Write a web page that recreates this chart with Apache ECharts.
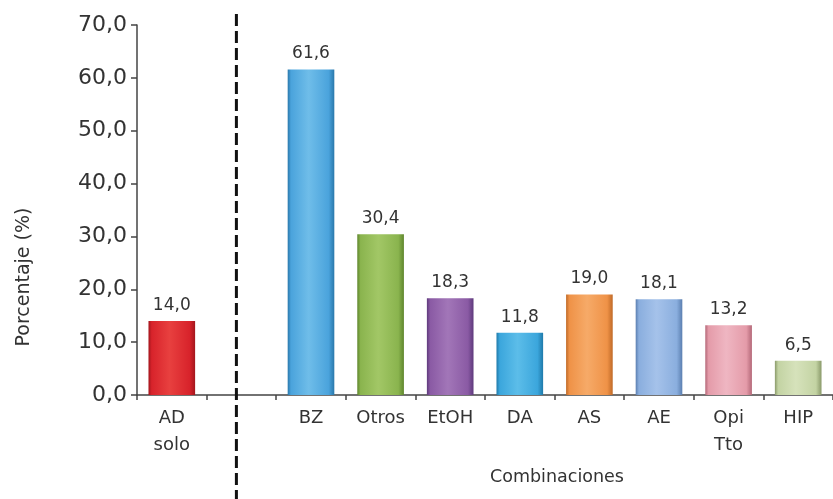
<!DOCTYPE html>
<html>
<head>
<meta charset="utf-8">
<script src="https://cdn.jsdelivr.net/npm/echarts@6/dist/echarts.min.js"></script>
<style>html,body{margin:0;padding:0;background:#fff}#c{width:833px;height:499px}</style>
</head>
<body>
<div id="c"></div>
<script>
const categories = ['AD\nsolo', '', 'BZ', 'Otros', 'EtOH', 'DA', 'AS', 'AE', 'Opi\nTto', 'HIP'];
const values = [14.0, null, 61.6, 30.4, 18.3, 11.8, 19.0, 18.1, 13.2, 6.5];
const yTicks = [0, 10, 20, 30, 40, 50, 60, 70];
const yTitle = 'Porcentaje (%)';
const xTitle = 'Combinaciones';

// styles: [dark edge, base, light centre]
const barColors = [
  ['#a3161d', '#d8232b', '#e8403f'],
  null,
  ['#2a78ab', '#4aa3dc', '#6fbde9'],
  ['#5f862d', '#8ab44e', '#a2c766'],
  ['#5e3a7c', '#8a5aa4', '#a276b8'],
  ['#1f7aaa', '#3ba6dc', '#5cbde9'],
  ['#c06a28', '#ef9247', '#f6aa68'],
  ['#5b7fb0', '#8aaede', '#a5c2ea'],
  ['#b46878', '#e49ba9', '#efb6c2'],
  ['#8a9a6a', '#c3d3a3', '#d6e2bb']
];

const fmt = v => Number(v).toFixed(1).replace('.', ',');

const chart = echarts.init(document.getElementById('c'), null, {renderer: 'canvas'});

const data = values.map((v, i) => {
  if (v === null) return null;
  const c = barColors[i];
  return {
    value: v,
    itemStyle: {
      color: new echarts.graphic.LinearGradient(0, 0, 1, 0, [
        {offset: 0, color: c[0]},
        {offset: 0.07, color: c[1]},
        {offset: 0.45, color: c[2]},
        {offset: 0.88, color: c[1]},
        {offset: 1, color: c[0]}
      ])
    }
  };
});

chart.setOption({
  animation: false,
  backgroundColor: '#ffffff',
  grid: {left: 137, right: -5, top: 25, bottom: 104, containLabel: false},
  xAxis: {
    type: 'category',
    data: categories,
    axisLine: {lineStyle: {color: '#444', width: 1.5}},
    axisTick: {show: true, length: 5, interval: 0, lineStyle: {color: '#444', width: 1.5}},
    axisLabel: {
      interval: 0, margin: 10, color: '#333',
      fontFamily: 'DejaVu Sans', fontSize: 18, lineHeight: 27
    }
  },
  yAxis: {
    type: 'value',
    min: yTicks[0], max: yTicks[yTicks.length - 1], interval: 10,
    axisLine: {show: true, lineStyle: {color: '#444', width: 1.5}},
    axisTick: {show: true, length: 6, lineStyle: {color: '#444', width: 1.5}},
    splitLine: {show: false},
    axisLabel: {
      margin: 10, color: '#333', fontFamily: 'DejaVu Sans', fontSize: 22,
      formatter: fmt
    }
  },
  series: [{
    type: 'bar',
    data: data,
    barWidth: '67%',
    label: {
      show: true, position: 'top', distance: 7,
      color: '#333', fontFamily: 'DejaVu Sans', fontSize: 17,
      formatter: p => fmt(p.value)
    }
  }]
});

const gapX = chart.convertToPixel({xAxisIndex: 0}, 1) - 5;
const axisMidY = (chart.convertToPixel({yAxisIndex: 0}, yTicks[0]) + chart.convertToPixel({yAxisIndex: 0}, yTicks[yTicks.length - 1])) / 2;

chart.setOption({
  graphic: [
    {
      type: 'line',
      shape: {x1: gapX, y1: 14, x2: gapX, y2: 499},
      style: {stroke: '#111', lineWidth: 3, lineDash: [12, 5]},
      z: 10
    },
    {
      type: 'text',
      x: 24, y: axisMidY + 67,
      rotation: Math.PI / 2,
      style: {
        text: yTitle, fill: '#333', fontFamily: 'DejaVu Sans', fontSize: 19,
        textAlign: 'center', textVerticalAlign: 'middle'
      }
    },
    {
      type: 'text',
      x: 557, y: 477,
      style: {
        text: xTitle, fill: '#333', fontFamily: 'DejaVu Sans', fontSize: 17.5,
        textAlign: 'center', textVerticalAlign: 'middle'
      }
    }
  ]
});
</script>
</body>
</html>
